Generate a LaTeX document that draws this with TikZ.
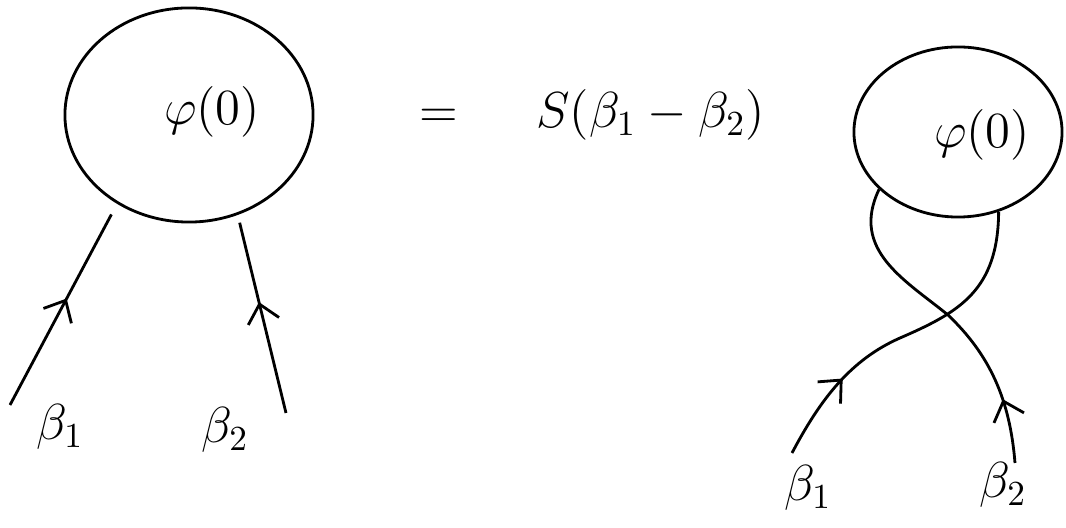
\documentclass[tikz,border=0pt]{standalone}
\usepackage{amsmath}
\usetikzlibrary{arrows.meta, shapes.geometric, decorations.markings}

\begin{document}
\begin{tikzpicture}[
    x=0.01cm, y=-0.01cm,
    every node/.style={font=\Large},
    >={Straight Barb[length=5pt, width=9pt]},
    line/.style={thick},
    blob/.style={draw, thick, ellipse, inner sep=0pt},
    mid arrow/.style={postaction={decorate},
        decoration={markings, mark=at position #1 with {\arrow{>}}}},
]
\useasboundingbox (0,0) rectangle (1066,528);

% === Left: form factor ===
\node[blob, minimum width=2.48cm, minimum height=2.14cm] (blobL) at (189,115) {};
\node (phiL) at (212,112) {$\varphi(0)$};

\coordinate (inL1) at (10,405);
\coordinate (inL2) at (286,413);
\draw[line, mid arrow=0.53, shorten >=0.12cm] (inL1) -- (blobL.231);
\draw[line, mid arrow=0.56, shorten >=0.08cm] (inL2) -- (blobL.296);

\node (bL1) at (60,427) {$\beta_1$};
\node (bL2) at (225,430) {$\beta_2$};

% === Equation ===
\node (eq) at (592,115) {$=\quad\; S(\beta_1-\beta_2)$};

% === Right: crossed legs ===
\node[blob, minimum width=2.08cm, minimum height=1.70cm] (blobR) at (958,132) {};
\node (phiR) at (982,135) {$\varphi(0)$};

\coordinate (inR1) at (792,453);
\coordinate (inR2) at (1015,463);
% leg from beta_1
\draw[line, mid arrow=0.27] (inR1) .. controls (820,400) and (850,360) .. (900,338)
    .. controls (960,312) and (998,290) .. (blobR.297);
% leg from beta_2
\draw[line, mid arrow=0.2] (inR2) .. controls (1010,400) and (990,355) .. (948,315)
    .. controls (905,280) and (850,250) .. (blobR.216);

\node (bR1) at (808,488) {$\beta_1$};
\node (bR2) at (1003,485) {$\beta_2$};

\end{tikzpicture}
\end{document}
